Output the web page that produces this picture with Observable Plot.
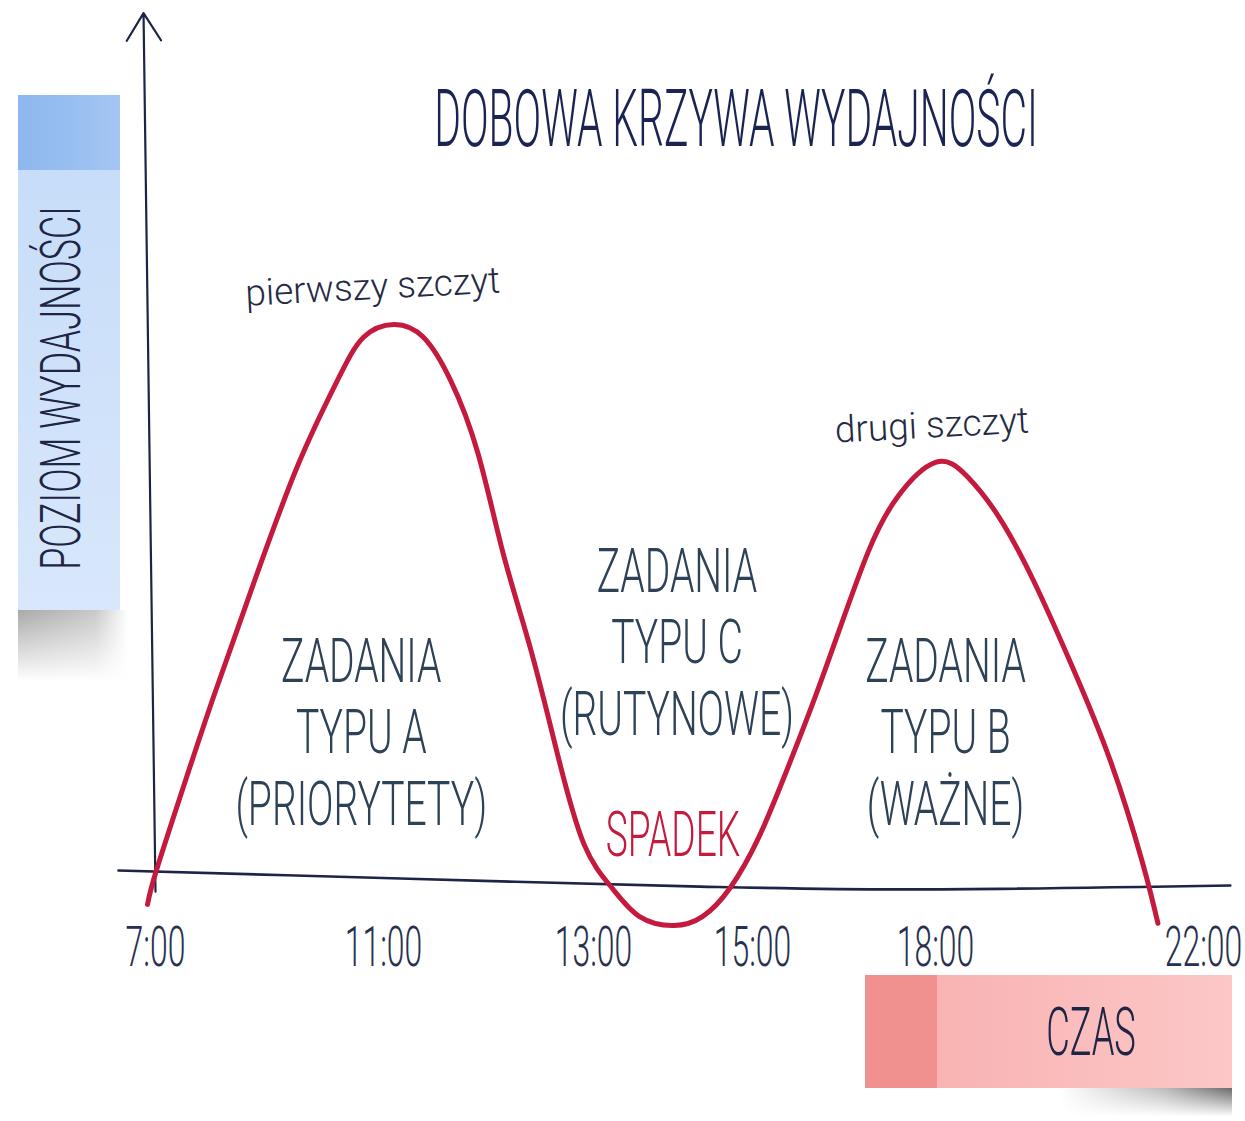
<!DOCTYPE html>
<html><head><meta charset="utf-8">
<script src="https://cdn.jsdelivr.net/npm/d3@7"></script>
<script src="https://cdn.jsdelivr.net/npm/@observablehq/plot@0.6"></script>
<style>
body{margin:0;background:#fff;}
#wrap{position:relative;width:1245px;height:1121px;overflow:hidden;background:#fff;font-family:Roboto,"Noto Sans",sans-serif;}
#chart svg{display:block;max-width:none !important;}
.abs{position:absolute;}
#title{left:736px;top:79px;white-space:nowrap;font-size:80px;font-weight:300;color:#1b2352;transform:translateX(-50%) scaleX(0.51);transform-origin:50% 50%;line-height:1;}
#ybox{left:18px;top:95px;width:102px;height:515px;background:linear-gradient(to bottom,#c4dbf8,#d8e7fb);}
#yband{left:0;top:0;width:102px;height:75px;background:linear-gradient(to right,#8db7ee,#a3c6f3);}
#ylab{left:43px;top:293px;white-space:nowrap;font-size:56px;font-weight:300;color:#1e2444;line-height:1;transform:translate(-50%,-50%) rotate(-90deg) scaleX(0.64);}
#yshadow{left:18px;top:610px;width:110px;height:75px;background:linear-gradient(to bottom,rgba(255,255,255,0),#fff 95%),linear-gradient(to right,#a9a9a9,#c8c8c8 70%,#fff);}
#xbox{left:865px;top:975px;width:367px;height:113px;background:linear-gradient(to right,#f8aeae,#fcc7c7);}
#xband{left:0;top:0;width:72px;height:113px;background:#f0908f;}
#xlab{left:226px;top:58px;white-space:nowrap;font-size:66px;font-weight:300;color:#1e2444;line-height:1;transform:translate(-50%,-50%) scaleX(0.55);}
#xshadow{left:1060px;top:1088px;width:172px;height:30px;background:linear-gradient(to bottom,rgba(255,255,255,0),#fff 95%),linear-gradient(to right,#fff,#bdbdbd 60%,#6a6a6a);}
</style></head><body>
<div id="wrap">
  <div id="chart"></div>
  <div id="title" class="abs">DOBOWA KRZYWA WYDAJNOŚCI</div>
  <div id="ybox" class="abs"><div id="yband" class="abs"></div><div id="ylab" class="abs">POZIOM WYDAJNOŚCI</div></div>
  <div id="yshadow" class="abs"></div>
  <div id="xshadow" class="abs"></div>
  <div id="xbox" class="abs"><div id="xband" class="abs"></div><div id="xlab" class="abs">CZAS</div></div>
</div>
<script>
// ---- data ----
const xTicks = [7, 11, 13, 15, 18, 22];                   // hours shown on the time axis
const tickLabels = ["7:00", "11:00", "13:00", "15:00", "18:00", "22:00"];

// performance curve: hour of day and performance level (0 = axis, 100 = first peak)
const curveHour  = [6.86, 7.0, 7.44, 8.02, 8.72, 9.49, 10.19, 10.65, 11.10, 11.38, 11.64, 11.90, 12.14, 12.40, 12.66, 12.91, 13.23, 13.58, 14.01, 14.37, 14.72, 15.10, 15.54, 16.0, 16.46, 16.90, 17.36, 18.0, 18.47, 18.94, 19.46, 20.04, 20.62, 21.09, 21.32];
const curveLevel = [-4.3, 1.3, 15.3, 33.1, 53.4, 74.5, 89.9, 97.7, 100, 97.7, 89.9, 76.8, 58.8, 41.7, 22.5, 6.5, -1.3, -6.5, -8.1, -6.5, -1.3, 7.7, 19.2, 32.2, 46.2, 59.2, 68.7, 75.2, 72.7, 65.5, 54.0, 38.5, 21.2, 3.2, -7.7];

// hand-drawn time axis
const axisHour  = [6.35, 11.16, 14.34, 17.41, 22.4];
const axisLevel = [1.8, 0.36, -1.1, -1.6, -0.9];

// task blocks
const blockText  = ["ZADANIA\nTYPU A\n(PRIORYTETY)", "ZADANIA\nTYPU C\n(RUTYNOWE)", "ZADANIA\nTYPU B\n(WAŻNE)"];
const blockHour  = [10.61, 14.05, 18.15];
const blockLevel = [27.0, 43.2, 27.0];

// peak notes
const noteText  = ["pierwszy szczyt", "drugi szczyt"];
const noteHour  = [10.81, 17.94];
const noteLevel = [106.7, 81.8];

// dip label
const dipText  = ["SPADEK"];
const dipHour  = [14.0];
const dipLevel = [8.1];

// level axis arrow
const levelAxis = [{t1: 7.0, v1: -2, t2: 6.79, v2: 156}];

// ---- build ----
const curve = curveHour.map((t, i) => ({t, v: curveLevel[i]}));
const base  = axisHour.map((t, i) => ({t, v: axisLevel[i]}));
const FONT = "Roboto, 'Noto Sans', sans-serif";
const INK = "#1d2447";
const RED = "#c41a3e";

const chart = Plot.plot({
  width: 1245, height: 1121,
  marginTop: 0, marginLeft: 0, marginRight: 0, marginBottom: 211,
  style: "background:transparent;overflow:visible;max-width:none;",
  x: {type: "linear", domain: xTicks, range: [155, 383, 593, 752, 935, 1203], axis: null},
  y: {type: "linear", domain: [0, 100], range: [880, 324], axis: null},
  marks: [
    Plot.line(base, {x: "t", y: "v", curve: "catmull-rom", stroke: INK, strokeWidth: 2.6}),
    Plot.arrow(levelAxis, {x1: "t1", y1: "v1", x2: "t2", y2: "v2", stroke: INK, strokeWidth: 2.2, headLength: 22, headAngle: 64}),
    Plot.line(curve, {x: "t", y: "v", curve: "natural", stroke: RED, strokeWidth: 5, strokeLinecap: "round"}),
    Plot.axisX({ticks: xTicks, tickFormat: (d) => tickLabels[xTicks.indexOf(d)], tickSize: 0, tickPadding: 16, fontSize: 55, fill: "#283050", label: null, anchor: "bottom", fontFamily: FONT, fontWeight: 300}),
    Plot.text(blockText, {x: (d, i) => blockHour[i], y: (d, i) => blockLevel[i], text: (d) => d, fontSize: 61, lineHeight: 1.17, fill: "#2d4157", fontFamily: FONT, fontWeight: 300}),
    Plot.text(dipText, {x: (d, i) => dipHour[i], y: (d, i) => dipLevel[i], text: (d) => d, fontSize: 63, fill: RED, fontFamily: FONT, fontWeight: 300}),
    Plot.text(noteText, {x: (d, i) => noteHour[i], y: (d, i) => noteLevel[i], text: (d) => d, fontSize: 37, rotate: -3, fill: "#252a45", fontFamily: FONT, fontWeight: 300})
  ]
});
document.getElementById("chart").appendChild(chart);

// narrow hand-lettered look: squeeze each text horizontally about its anchor
const squeezeBySize = {"55": 0.58, "61": 0.64, "63": 0.59, "37": 1.0};
chart.querySelectorAll("text").forEach((t) => {
  const g = t.closest("[font-size]");
  const s = g ? squeezeBySize[String(parseFloat(g.getAttribute("font-size")))] : undefined;
  if (!s || s === 1) return;
  const tr = t.getAttribute("transform") || "";
  const x = +t.getAttribute("x") || 0, y = +t.getAttribute("y") || 0;
  if (x || y) { t.setAttribute("x", 0); t.setAttribute("y", 0); t.setAttribute("transform", `${tr} translate(${x},${y}) scale(${s},1)`); }
  else t.setAttribute("transform", `${tr} scale(${s},1)`);
});
</script>
</body></html>
